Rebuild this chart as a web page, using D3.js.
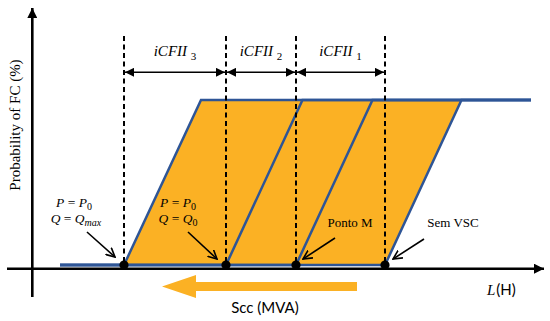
<!DOCTYPE html>
<html><head><meta charset="utf-8">
<script src="https://cdn.jsdelivr.net/npm/d3@7"></script>
<style>body{margin:0;background:#fff}svg{display:block}</style>
</head><body>
<script>
// ---- data ----
const pointNames = ["P = P0, Q = Qmax", "P = P0, Q = Q0", "Ponto M", "Sem VSC"];
const lStart = [1.84, 3.88, 5.28, 7.06];   // L where probability leaves 0 %
const lFull  = [3.38, 5.41, 6.81, 8.59];   // L where probability reaches 100 %
const lRange = [0.56, 9.98];               // extent of the curves
const probLevels = [0, 100];
const intervalNames = ["iCFII", "iCFII", "iCFII"];
const intervalSubs = ["3", "2", "1"];
const yLabel = "Probability of FC (%)";
const xLabelL = "L";
const xLabelUnit = "(H)";
const sccLabel = "Scc (MVA)";

// ---- drawing ----
const W = 550, H = 321;
const svg = d3.select("body").append("svg").attr("width", W).attr("height", H);
const x = d3.scaleLinear().domain([0, 10]).range([32, 532]);
const y = d3.scaleLinear().domain([0, 100]).range([265, 100]);
const orange = "#FBB124", blue = "#2E5596";

const defs = svg.append("defs");
defs.append("marker").attr("id", "tri").attr("markerUnits", "userSpaceOnUse")
  .attr("viewBox", "0 0 10 10").attr("refX", 10).attr("refY", 5)
  .attr("markerWidth", 11).attr("markerHeight", 10).attr("orient", "auto-start-reverse")
  .append("path").attr("d", "M0,0L10,5L0,10Z").attr("fill", "#000");
defs.append("marker").attr("id", "tri2").attr("markerUnits", "userSpaceOnUse")
  .attr("viewBox", "0 0 10 10").attr("refX", 10).attr("refY", 5)
  .attr("markerWidth", 10).attr("markerHeight", 9).attr("orient", "auto-start-reverse")
  .append("path").attr("d", "M0,0L10,5L0,10Z").attr("fill", "#000");
defs.append("marker").attr("id", "chev").attr("markerUnits", "userSpaceOnUse")
  .attr("viewBox", "0 0 10 10").attr("refX", 9).attr("refY", 5)
  .attr("markerWidth", 10).attr("markerHeight", 10).attr("orient", "auto")
  .append("path").attr("d", "M0,0.5L9,5L0,9.5").attr("fill", "none").attr("stroke", "#000").attr("stroke-width", 1.6);

// fill region between first and last curve
const n = lStart.length;
svg.append("path")
  .attr("d", d3.line()([[x(lStart[0]), y(probLevels[0])], [x(lFull[0]), y(probLevels[1])],
                        [x(lFull[n-1]), y(probLevels[1])], [x(lStart[n-1]), y(probLevels[0])]]) + "Z")
  .attr("fill", orange);

// axes
svg.append("line").attr("x1", 7).attr("x2", 544).attr("y1", 268.7).attr("y2", 268.7)
  .attr("stroke", "#000").attr("stroke-width", 2.6).attr("marker-end", "url(#tri)");
svg.append("line").attr("x1", 32.3).attr("x2", 32.3).attr("y1", 297).attr("y2", 8)
  .attr("stroke", "#000").attr("stroke-width", 2.6).attr("marker-end", "url(#tri)");

// curves
const curve = d3.line().x(d => x(d[0])).y(d => y(d[1]));
lStart.forEach((s, i) => {
  svg.append("path")
    .attr("d", curve([[lRange[0], probLevels[0]], [s, probLevels[0]], [lFull[i], probLevels[1]], [lRange[1], probLevels[1]]]))
    .attr("fill", "none").attr("stroke", blue).attr("stroke-width", 2.5).attr("stroke-linejoin", "miter");
});

// dashed verticals
lStart.forEach(s => {
  svg.append("line").attr("x1", x(s)).attr("x2", x(s)).attr("y1", 36).attr("y2", y(0) - 2)
    .attr("stroke", "#000").attr("stroke-width", 2).attr("stroke-dasharray", "5,3.5");
});

// interval double arrows and labels
for (let i = 0; i < n - 1; i++) {
  const a = x(lStart[i]), b = x(lStart[i + 1]);
  svg.append("line").attr("x1", a + 1).attr("x2", b - 1).attr("y1", 72.3).attr("y2", 72.3)
    .attr("stroke", "#000").attr("stroke-width", 1.6)
    .attr("marker-start", "url(#tri2)").attr("marker-end", "url(#tri2)");
  const t = svg.append("text").attr("x", (a + b) / 2).attr("y", 56).attr("text-anchor", "middle")
    .attr("font-family", "Liberation Serif").attr("font-size", 15);
  t.append("tspan").attr("font-style", "italic").text(intervalNames[i] + " ");
  t.append("tspan").attr("font-size", 11).attr("dy", 4).text(intervalSubs[i]);
}

// points
lStart.forEach(s => {
  svg.append("circle").attr("cx", x(s)).attr("cy", y(0)).attr("r", 4.6).attr("fill", "#000");
});

// annotation arrows (offsets from each point)
const ann = [[-37, -33, -9, -8], [-38, -33, -9, -6], [39, -27, 7, -6], [39, -26, 8, -6]];
ann.forEach((o, i) => {
  const px = x(lStart[i]), py = y(0);
  svg.append("line").attr("x1", px + o[0]).attr("y1", py + o[1]).attr("x2", px + o[2]).attr("y2", py + o[3])
    .attr("stroke", "#000").attr("stroke-width", 1.6).attr("marker-end", "url(#chev)");
});

// math labels
function mathLine(cx, by, v, sub) {
  const t = svg.append("text").attr("x", cx).attr("y", by).attr("text-anchor", "middle")
    .attr("font-family", "Liberation Serif").attr("font-size", 13.5);
  t.append("tspan").attr("font-style", "italic").text(v);
  t.append("tspan").text(" = ");
  t.append("tspan").attr("font-style", "italic").text(v);
  t.append("tspan").attr("font-size", 10).attr("dy", 3)
    .attr("font-style", sub === "0" ? "normal" : "italic").text(sub);
}
const p0 = x(lStart[0]) - 50, p1 = x(lStart[1]) - 48;
mathLine(p0, 207, "P", "0");
mathLine(p0 + 2, 223, "Q", "max");
mathLine(p1, 207, "P", "0");
mathLine(p1, 223, "Q", "0");

svg.append("text").attr("x", x(lStart[2]) + 54).attr("y", 227).attr("text-anchor", "middle")
  .attr("font-family", "Liberation Serif").attr("font-size", 13).text(pointNames[2]);
svg.append("text").attr("x", x(lStart[3]) + 68).attr("y", 227).attr("text-anchor", "middle")
  .attr("font-family", "Liberation Serif").attr("font-size", 13).text(pointNames[3]);

// y label
svg.append("text").attr("transform", "translate(20,125) rotate(-90)").attr("text-anchor", "middle")
  .attr("font-family", "Liberation Serif").attr("font-size", 15).text(yLabel);

// x label
const xl = svg.append("text").attr("x", 487).attr("y", 295).attr("font-size", 15);
xl.append("tspan").attr("font-family", "Liberation Serif").attr("font-style", "italic").text(xLabelL);
xl.append("tspan").attr("font-family", "Lato").attr("dx", 1).text(xLabelUnit);

// Scc arrow
const ay = 286.5;
svg.append("path").attr("d", d3.line()([[162, ay], [196, ay - 11.5], [196, ay - 4.5], [357, ay - 4.5],
  [357, ay + 4.5], [196, ay + 4.5], [196, ay + 11.5]]) + "Z").attr("fill", orange);
svg.append("text").attr("x", 265).attr("y", 312.5).attr("text-anchor", "middle")
  .attr("font-family", "Lato").attr("font-size", 15).text(sccLabel);
</script>
</body></html>
